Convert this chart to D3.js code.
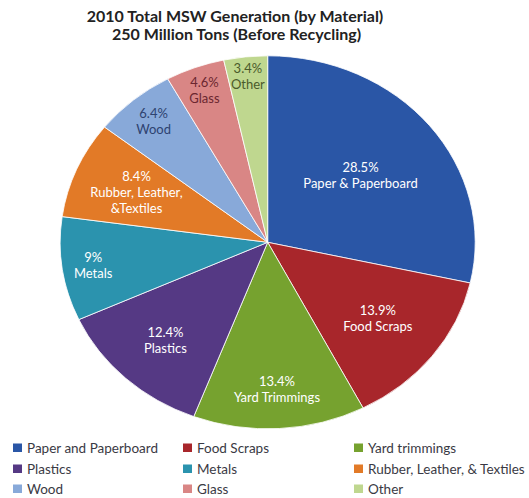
<!DOCTYPE html>
<html>
<head>
<meta charset="utf-8">
<script src="https://cdn.jsdelivr.net/npm/d3@7"></script>
<style>
  html, body { margin: 0; padding: 0; background: #fff; }
  svg { display: block; font-family: Lato, "Open Sans", sans-serif; }
</style>
</head>
<body>
<svg id="chart" width="529" height="498"></svg>
<script>
// Municipal solid waste generation shares, 2010 (percent of 250 million tons)
const materials = ["Paper and Paperboard", "Food Scraps", "Yard trimmings", "Plastics",
                   "Metals", "Rubber, Leather, & Textiles", "Wood", "Glass", "Other"];
const sliceLabels = [["Paper & Paperboard"], ["Food Scraps"], ["Yard Trimmings"], ["Plastics"],
                     ["Metals"], ["Rubber, Leather,", "&Textiles"], ["Wood"], ["Glass"], ["Other"]];
const shares = [28.5, 13.9, 13.4, 12.4, 9, 8.4, 6.4, 4.6, 3.4];
const colors = ["#2a56a6", "#a8262b", "#76a22f", "#553984", "#2b93ae", "#e27a27",
                "#88a9d9", "#d98685", "#bfd78f"];
const labelInk = ["#ffffff", "#ffffff", "#ffffff", "#ffffff", "#ffffff", "#ffffff",
                  "#2e4370", "#6b2730", "#4b5b2b"];
// distance of each label from the centre, as a fraction of the radius
const labelRadius = [0.573, 0.67, 0.79, 0.72, 0.85, 0.687, 0.85, 0.87, 0.896];

const svg = d3.select("#chart");

// Title
const title = svg.append("text")
  .attr("text-anchor", "middle")
  .attr("font-weight", "bold").attr("font-size", 16).attr("fill", "#222");
title.append("tspan").attr("x", 235).attr("y", 22).text("2010 Total MSW Generation (by Material)");
title.append("tspan").attr("x", 236.5).attr("y", 40).text("250 Million Tons (Before Recycling)");

// Pie (drawn as a circle, then stretched horizontally)
const cx = 267.7, cy = 242.3, ry = 186.5, rx = 207.5;
const sx = rx / ry;

const pie = d3.pie().sort(null).value(d => d);
const arcs = pie(shares);
const arc = d3.arc().innerRadius(0).outerRadius(ry);

const g = svg.append("g").attr("transform", `translate(${cx},${cy})`);
g.append("g").attr("transform", `scale(${sx},1)`)
  .selectAll("path").data(arcs).join("path")
  .attr("d", arc)
  .attr("fill", (d, i) => colors[i])
  .attr("stroke", "#ffffff").attr("stroke-width", 0.8)
  .attr("vector-effect", "non-scaling-stroke");

// Slice labels
const lbl = g.selectAll("g.lbl").data(arcs).join("g").attr("class", "lbl")
  .attr("transform", (d, i) => {
    const a = (d.startAngle + d.endAngle) / 2;
    const r = labelRadius[i];
    return `translate(${Math.sin(a) * r * rx},${-Math.cos(a) * r * ry})`;
  });
lbl.each(function (d, i) {
  const lines = [d3.format("")(shares[i]) + "%", ...sliceLabels[i]];
  const lh = 15.8;
  const t = d3.select(this).append("text")
    .attr("text-anchor", "middle").attr("font-size", 13)
    .attr("fill", labelInk[i]);
  lines.forEach((s, k) => {
    t.append("tspan").attr("x", 0)
      .attr("y", (k - (lines.length - 1) / 2) * lh + 4.6)
      .text(s);
  });
});

// Legend, three columns by three rows
const colX = [13, 183, 354];
const rowY = [448, 469, 489];
const leg = svg.selectAll("g.leg").data(materials).join("g").attr("class", "leg")
  .attr("transform", (d, i) => `translate(${colX[i % 3]},${rowY[Math.floor(i / 3)]})`);
leg.append("rect").attr("x", 0).attr("y", -4.5).attr("width", 9).attr("height", 8.5)
  .attr("fill", (d, i) => colors[i]);
leg.append("text").attr("x", 14).attr("y", 4.6)
  .attr("font-size", 13.5).attr("fill", "#3a3a44")
  .text(d => d);
</script>
</body>
</html>
